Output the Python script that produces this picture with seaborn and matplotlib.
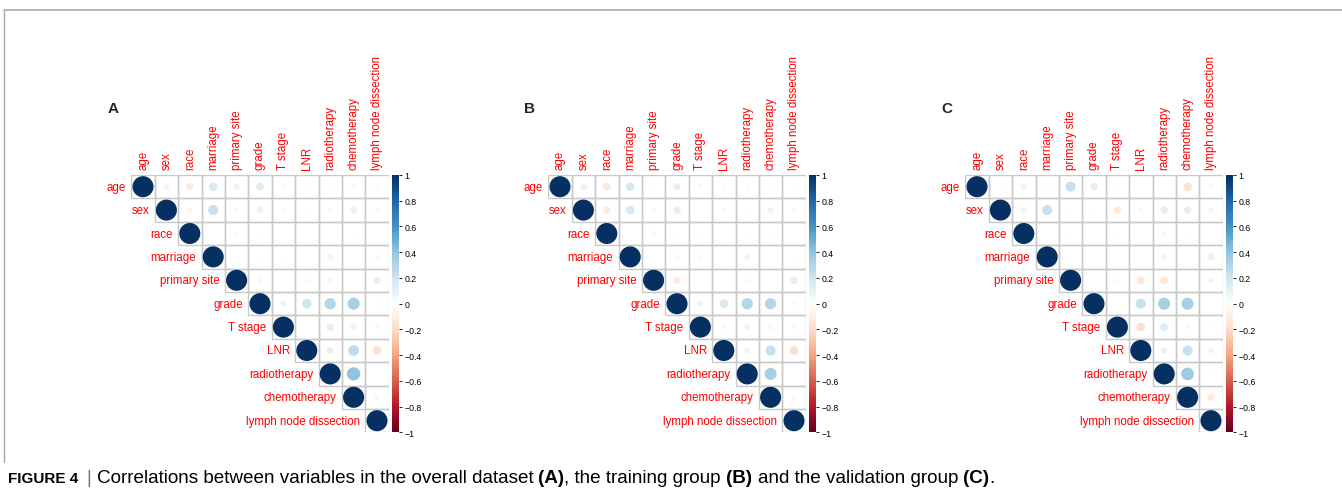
import numpy as np
import pandas as pd
import matplotlib
matplotlib.use("Agg")
import matplotlib.pyplot as plt
import seaborn as sns
from matplotlib.colors import LinearSegmentedColormap, Normalize
from matplotlib.patches import Rectangle
from matplotlib.lines import Line2D
from matplotlib.cm import ScalarMappable

# ---------------- data ----------------
variables = ["age", "sex", "race", "marriage", "primary site", "grade",
             "T stage", "LNR", "radiotherapy", "chemotherapy",
             "lymph node dissection"]

# upper triangle, values right of the diagonal (row i -> columns i+1 .. end)
corr_a = [
    [0.08, -0.12, 0.17, 0.08, 0.14, 0.04, 0.02, -0.03, -0.05, 0.04],
    [-0.06, 0.23, 0.05, 0.10, -0.04, 0.02, 0.05, 0.10, -0.05],
    [-0.01, -0.04, -0.02, 0.0, 0.0, 0.0, -0.02, -0.01],
    [0.0, 0.03, -0.02, -0.01, -0.08, 0.0, -0.05],
    [-0.05, 0.0, -0.04, -0.06, -0.01, 0.12],
    [0.08, 0.20, 0.29, 0.33, -0.03],
    [0.0, 0.12, 0.08, -0.04],
    [0.11, 0.26, -0.17],
    [0.40, -0.01],
    [-0.06],
]
corr_b = [
    [0.10, -0.14, 0.17, 0.02, 0.12, 0.05, -0.04, -0.04, -0.03, 0.03],
    [-0.12, 0.17, 0.05, 0.12, 0.01, -0.04, 0.02, 0.08, -0.05],
    [-0.01, -0.05, -0.03, 0.01, 0.0, -0.02, -0.02, -0.01],
    [0.0, 0.05, -0.04, 0.0, -0.08, 0.0, -0.03],
    [-0.12, 0.0, -0.01, -0.04, -0.01, 0.12],
    [0.08, 0.17, 0.29, 0.29, -0.04],
    [0.04, 0.08, 0.06, -0.05],
    [0.08, 0.23, -0.17],
    [0.33, 0.0],
    [-0.05],
]
corr_c = [
    [0.02, -0.08, 0.03, 0.23, 0.12, 0.02, 0.0, -0.01, -0.17, 0.04],
    [0.08, 0.23, 0.02, 0.01, -0.12, 0.05, 0.12, 0.12, -0.06],
    [-0.01, -0.03, 0.0, 0.03, 0.0, 0.06, 0.01, 0.0],
    [0.0, 0.01, 0.0, -0.01, -0.07, 0.01, -0.10],
    [0.01, 0.04, -0.14, -0.14, 0.0, 0.07],
    [0.01, 0.23, 0.33, 0.33, 0.0],
    [-0.17, 0.15, 0.04, -0.03],
    [0.10, 0.23, -0.07],
    [0.36, 0.01],
    [-0.12],
]
panel_letters = ["A", "B", "C"]
cbar_ticks = [-1, -0.8, -0.6, -0.4, -0.2, 0, 0.2, 0.4, 0.6, 0.8, 1]
cbar_labels = ["\u22121", "\u22120.8", "\u22120.6", "\u22120.4", "\u22120.2", "0",
               "0.2", "0.4", "0.6", "0.8", "1"]
caption_parts = [
    ("FIGURE 4", "label"),
    ("|", "sep"),
    ("Correlations between variables in the overall dataset", "normal"),
    ("(A)", "bold"),
    (", the training group", "normal_nospace"),
    ("(B)", "bold"),
    ("and the validation group", "normal"),
    ("(C)", "bold"),
    (".", "normal_nospace"),
]

# corrplot's default RdBu palette
cmap = LinearSegmentedColormap.from_list(
    "corrplot_rdbu",
    ["#67001F", "#B2182B", "#D6604D", "#F4A582", "#FDDBC7", "#FFFFFF",
     "#D1E5F0", "#92C5DE", "#4393C3", "#2166AC", "#053061"])
norm = Normalize(-1, 1)


def to_long(upper):
    rows = []
    n = len(variables)
    for i in range(n):
        rows.append((i, i, 1.0))
        if i < len(upper):
            for k, v in enumerate(upper[i]):
                rows.append((i, i + 1 + k, v))
    df = pd.DataFrame(rows, columns=["row", "col", "r"])
    df["absr"] = df["r"].abs()
    return df


sns.set_theme(style="white")
plt.rcParams["font.family"] = ["Liberation Sans", "DejaVu Sans"]

W, H = 1342, 502
fig = plt.figure(figsize=(W / 100, H / 100), dpi=100)
fig.patch.set_facecolor("white")

n = len(variables)
cell = 23.4
grid_left = [131.3, 548.3, 965.3]
grid_top = 176
label_red = "#FF0000"
full_area = (0.9 * cell * 0.72) ** 2  # points^2 for |r| = 1

for p, (upper, left) in enumerate(zip([corr_a, corr_b, corr_c], grid_left)):
    df = to_long(upper)
    ax = fig.add_axes([left / W, 1 - (grid_top + n * cell) / H,
                       n * cell / W, n * cell / H])
    # grid cells of the upper triangle
    for i in range(n):
        for j in range(i, n):
            ax.add_patch(Rectangle((j - 0.5, i - 0.5), 1, 1, facecolor="none",
                                   edgecolor="#C8C8C8", linewidth=1.0, zorder=1))
    sns.scatterplot(data=df, x="col", y="row", hue="r", size="absr",
                    palette=cmap, hue_norm=(-1, 1), sizes=(0, full_area),
                    size_norm=(0, 1), linewidth=0, legend=False, ax=ax, zorder=3)
    ax.set_xlim(-0.5, n - 0.5)
    ax.set_ylim(n - 0.5, -0.5)
    ax.set_axis_off()
    for j, name in enumerate(variables):
        ax.text(j, -0.75, name, rotation=90, ha="center", va="bottom",
                color=label_red, fontsize=8.3, clip_on=False)
        ax.text(j - 0.72, j, name, ha="right", va="center",
                color=label_red, fontsize=8.3, clip_on=False)
    fig.text((left - 24) / W, 1 - 113 / H, panel_letters[p], fontsize=11,
             fontweight="bold", ha="left", va="baseline")

    # color legend
    cax = fig.add_axes([(left + 261) / W, 1 - (grid_top + n * cell) / H,
                        7 / W, n * cell / H])
    cb = fig.colorbar(ScalarMappable(norm=norm, cmap=cmap), cax=cax,
                      ticks=cbar_ticks)
    cb.set_ticklabels(cbar_labels)
    cb.outline.set_visible(False)
    cax.tick_params(axis="y", direction="out", length=2, width=0.6,
                    labelsize=6.3, pad=1.5, colors="black")

# frame lines of the figure panel
fig.add_artist(Line2D([4 / W, 1], [1 - 10.5 / H, 1 - 10.5 / H],
                      color="#A8A8A8", linewidth=1.2))
fig.add_artist(Line2D([4 / W, 4 / W], [1 - 10.5 / H, 1 - 463 / H],
                      color="#A8A8A8", linewidth=1.0))

# caption
renderer = fig.canvas.get_renderer()
cap_size = 13.6
probe1 = fig.text(0, 0, "x x", fontsize=cap_size)
probe2 = fig.text(0, 0, "xx", fontsize=cap_size)
space = (probe1.get_window_extent(renderer).width
         - probe2.get_window_extent(renderer).width)
probe1.remove()
probe2.remove()

x = 8.0
y = 1 - 483 / H
for k, (txt, style) in enumerate(caption_parts):
    if k > 0 and not style.endswith("nospace"):
        x += space
    if style == "sep":
        x += 3
        t = fig.text(x / W, y, txt, fontsize=cap_size, color="#777777",
                     ha="left", va="baseline")
        x += 3
    elif style == "label":
        t = fig.text(x / W, y, txt, fontsize=11, fontweight="bold",
                     ha="left", va="baseline", color="black")
    else:
        weight = "bold" if style.startswith("bold") else "normal"
        t = fig.text(x / W, y, txt, fontsize=cap_size, fontweight=weight,
                     ha="left", va="baseline", color="black")
    x = t.get_window_extent(renderer).x1

fig.savefig("out.png", dpi=100, facecolor="white")
